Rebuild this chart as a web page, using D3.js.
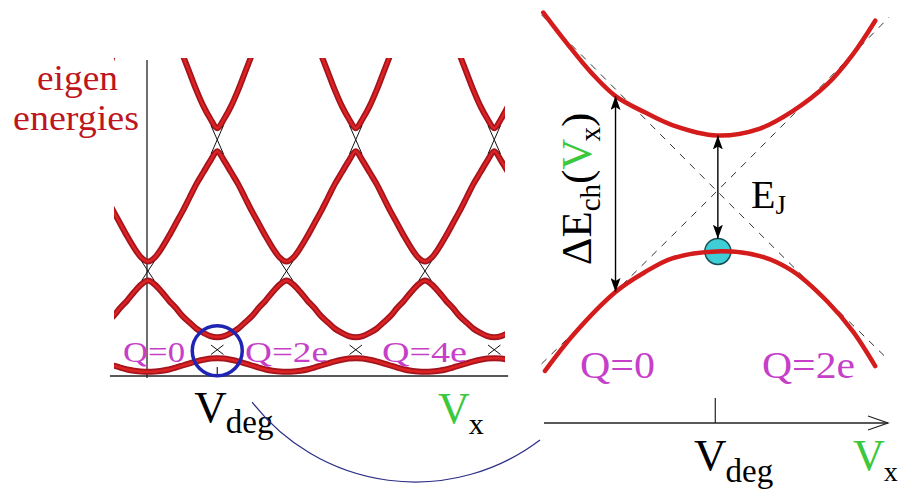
<!DOCTYPE html>
<html>
<head>
<meta charset="utf-8">
<script src="https://cdn.jsdelivr.net/npm/d3@7/dist/d3.min.js"></script>
<style>
  html, body { margin: 0; padding: 0; background: #fff; }
  svg { display: block; }
</style>
</head>
<body>
<div id="chart"></div>
<script>
// left panel: gate voltage samples (in units of one 2e period) and the four lowest bands
const vGrid = [-0.3, -0.25, -0.2, -0.15, -0.1, -0.05,
  0, 0.05, 0.1, 0.15, 0.2, 0.25, 0.3, 0.35, 0.4, 0.45, 0.5, 0.55, 0.6, 0.65, 0.7, 0.75, 0.8, 0.85, 0.9, 0.95,
  1, 1.05, 1.1, 1.15, 1.2, 1.25, 1.3, 1.35, 1.4, 1.45, 1.5, 1.55, 1.6, 1.65, 1.7, 1.75, 1.8, 1.85, 1.9, 1.95,
  2, 2.05, 2.1, 2.15, 2.2, 2.25, 2.3, 2.35, 2.4, 2.45, 2.5, 2.55, 2.6];
const band1 = [0.12, 0.10, 0.08, 0.062, 0.05, 0.042,
  0.04, 0.042, 0.05, 0.062, 0.08, 0.10, 0.12, 0.14, 0.155, 0.166, 0.17, 0.166, 0.155, 0.14, 0.12, 0.10, 0.08, 0.062, 0.05, 0.042,
  0.04, 0.042, 0.05, 0.062, 0.08, 0.10, 0.12, 0.14, 0.155, 0.166, 0.17, 0.166, 0.155, 0.14, 0.12, 0.10, 0.08, 0.062, 0.05, 0.042,
  0.04, 0.042, 0.05, 0.062, 0.08, 0.10, 0.12, 0.14, 0.155, 0.166, 0.17, 0.166, 0.155];
const band2 = [0.51, 0.57, 0.65, 0.72, 0.80, 0.87,
  0.91, 0.87, 0.80, 0.72, 0.65, 0.57, 0.51, 0.45, 0.41, 0.38, 0.37, 0.38, 0.41, 0.45, 0.51, 0.57, 0.65, 0.72, 0.80, 0.87,
  0.91, 0.87, 0.80, 0.72, 0.65, 0.57, 0.51, 0.45, 0.41, 0.38, 0.37, 0.38, 0.41, 0.45, 0.51, 0.57, 0.65, 0.72, 0.80, 0.87,
  0.91, 0.87, 0.80, 0.72, 0.65, 0.57, 0.51, 0.45, 0.41, 0.38, 0.37, 0.38, 0.41];
const band3 = [1.70, 1.57, 1.45, 1.33, 1.22, 1.13,
  1.09, 1.13, 1.22, 1.33, 1.45, 1.57, 1.70, 1.83, 1.94, 2.05, 2.14, 2.05, 1.94, 1.83, 1.70, 1.57, 1.45, 1.33, 1.22, 1.13,
  1.09, 1.13, 1.22, 1.33, 1.45, 1.57, 1.70, 1.83, 1.94, 2.05, 2.14, 2.05, 1.94, 1.83, 1.70, 1.57, 1.45, 1.33, 1.22, 1.13,
  1.09, 1.13, 1.22, 1.33, 1.45, 1.57, 1.70, 1.83, 1.94, 2.05, 2.14, 2.05, 1.94];
const band4 = [2.89, 3.06, 3.24, 3.42, 3.61, 3.80,
  4.0, 3.80, 3.61, 3.42, 3.24, 3.06, 2.89, 2.72, 2.57, 2.45, 2.36, 2.45, 2.57, 2.72, 2.89, 3.06, 3.24, 3.42, 3.61, 3.80,
  4.0, 3.80, 3.61, 3.42, 3.24, 3.06, 2.89, 2.72, 2.57, 2.45, 2.36, 2.45, 2.57, 2.72, 2.89, 3.06, 3.24, 3.42, 3.61, 3.80,
  4.0, 3.80, 3.61, 3.42, 3.24, 3.06, 2.89, 2.72, 2.57, 2.45, 2.36, 2.45, 2.57];
// crossings of the bare charge parabolas (thin black X marks)
const crossV = [0.5, 1.5, 2.5, 0, 1, 2, 0.5, 1.5, 2.5];
const crossE = [0.25, 0.25, 0.25, 1, 1, 1, 2.25, 2.25, 2.25];
const crossSlope = [1, 1, 1, 2, 2, 2, 3, 3, 3];
const chargeLabels = ['Q=0', 'Q=2e', 'Q=4e'];

// right panel: zoom on the degeneracy point (u = 0 at V_deg)
const uUpper = [-1.01, -0.87, -0.73, -0.59, -0.42, -0.26, 0, 0.25, 0.44, 0.64, 0.79, 0.92];
const eUpper = [1.54, 1.27, 1.02, 0.82, 0.68, 0.57, 0.48, 0.54, 0.69, 0.92, 1.18, 1.47];
const uLower = [-1.0, -0.83, -0.59, -0.42, -0.26, 0, 0.25, 0.44, 0.64, 0.79, 0.92];
const eLower = [-1.55, -1.23, -0.87, -0.70, -0.58, -0.52, -0.56, -0.69, -0.95, -1.21, -1.51];
const uBare = [-1.02, -0.5, 0, 0.5, 1.0];
const eBareA = [1.52, 0.745, 0, -0.735, -1.46];
const eBareB = [-1.49, -0.735, 0, 0.745, 1.50];
const arrowU = [-0.59, 0.005];
const arrowTop = [0.82, 0.48];
const arrowBottom = [-0.87, -0.41];

const W = 899, H = 492;
const RED = '#d41c1c', MAGENTA = '#c63fc8', GREEN = '#3cc83c';

// use whichever Times-like face the machine really has
function pickSerif() {
  const ctx = document.createElement('canvas').getContext('2d');
  const sample = 'eigen energies Q=2e Vdeg';
  ctx.font = '40px monospace';
  const base = ctx.measureText(sample).width;
  const cands = ['Liberation Serif', 'Tinos', 'Times New Roman', 'Nimbus Roman', 'Nimbus Roman No9 L',
    'FreeSerif', 'DejaVu Serif', 'Noto Serif', 'Times'];
  for (const f of cands) {
    ctx.font = `40px "${f}", monospace`;
    if (Math.abs(ctx.measureText(sample).width - base) > 0.5) return `"${f}", serif`;
  }
  return 'serif';
}
const SERIF = pickSerif();

const svg = d3.select('#chart').append('svg').attr('width', W).attr('height', H)
  .style('font-family', SERIF);
const defs = svg.append('defs');
defs.append('clipPath').attr('id', 'leftClip')
  .append('rect').attr('x', 114).attr('y', 58).attr('width', 391).attr('height', 322);
defs.append('marker').attr('id', 'head')
  .attr('viewBox', '0 0 14 10').attr('refX', 14).attr('refY', 5)
  .attr('markerWidth', 14).attr('markerHeight', 10).attr('markerUnits', 'userSpaceOnUse')
  .attr('orient', 'auto-start-reverse')
  .append('path').attr('d', 'M0,0 L14,5 L0,10 L3,5 Z').attr('fill', '#000');

// ---------- left panel ----------
const xL = d3.scaleLinear().domain([0, 2.5]).range([148, 494.25]);
const yL = d3.scaleLinear().domain([0, 3]).range([376, 61]);

svg.append('line').attr('x1', xL(0) - 1).attr('x2', xL(0) - 1).attr('y1', 60).attr('y2', 378)
  .attr('stroke', '#222').attr('stroke-width', 1.3);
svg.append('line').attr('x1', xL(-0.275)).attr('x2', xL(2.6)).attr('y1', yL(0)).attr('y2', yL(0))
  .attr('stroke', '#222').attr('stroke-width', 1.5);

const bandLine = d3.line().x((d, i) => xL(vGrid[i])).y(d => yL(d)).curve(d3.curveMonotoneX);
const gBands = svg.append('g').attr('clip-path', 'url(#leftClip)');
[band1, band2, band3, band4].forEach(b => {
  gBands.append('path').attr('d', bandLine(b)).attr('fill', 'none')
    .attr('stroke', '#a3141d').attr('stroke-width', 6).attr('stroke-linecap', 'round');
  gBands.append('path').attr('d', bandLine(b)).attr('fill', 'none')
    .attr('stroke', '#dc2222').attr('stroke-width', 2.6).attr('stroke-linecap', 'round');
});

const h = 0.045;
crossV.forEach((v, i) => {
  const e = crossE[i], s = crossSlope[i];
  [[-1, 1], [1, -1]].forEach(([a, b]) => {
    svg.append('line')
      .attr('x1', xL(v - h)).attr('y1', yL(e + a * s * h))
      .attr('x2', xL(v + h)).attr('y2', yL(e + b * s * h))
      .attr('stroke', '#111').attr('stroke-width', 1);
  });
});

// degeneracy circle and tick
svg.append('line').attr('x1', xL(0.5)).attr('x2', xL(0.5)).attr('y1', yL(0) - 9).attr('y2', yL(0))
  .attr('stroke', '#222').attr('stroke-width', 1.2);
svg.append('circle').attr('cx', xL(0.5)).attr('cy', yL(0.24)).attr('r', 25)
  .attr('fill', 'none').attr('stroke', '#1f25b2').attr('stroke-width', 3.5);

// labels
svg.append('text').text('eigen').attr('x', 37).attr('y', 90)
  .attr('font-size', 35).attr('fill', '#bd1620').attr('textLength', 81).attr('lengthAdjust', 'spacingAndGlyphs');
svg.append('text').text('energies').attr('x', 13).attr('y', 130)
  .attr('font-size', 35).attr('fill', '#bd1620').attr('textLength', 126).attr('lengthAdjust', 'spacingAndGlyphs');

const qLeftX = [123, 245, 382], qLeftW = [62, 83, 85];
chargeLabels.forEach((t, i) => {
  svg.append('text').text(t).attr('x', qLeftX[i]).attr('y', 362)
    .attr('font-size', 30).attr('fill', MAGENTA)
    .attr('textLength', qLeftW[i]).attr('lengthAdjust', 'spacingAndGlyphs');
});

const vdegL = svg.append('text').attr('x', xL(0.5) - 23).attr('y', 422).attr('fill', '#000');
vdegL.append('tspan').text('V').attr('font-size', 45);
vdegL.append('tspan').text('deg').attr('font-size', 33).attr('dx', -1).attr('dy', 11);

const vxL = svg.append('text').attr('x', 438).attr('y', 423);
vxL.append('tspan').text('V').attr('font-size', 44).attr('fill', GREEN);
vxL.append('tspan').text('x').attr('font-size', 30).attr('dx', -1).attr('dy', 11).attr('fill', '#000');

// connecting arc
const arcPath = d3.path();
arcPath.arc(415.2, 275.6, 206.4, 52.8 * Math.PI / 180, 142.2 * Math.PI / 180);
svg.append('path').attr('d', arcPath.toString()).attr('fill', 'none')
  .attr('stroke', '#2c2f86').attr('stroke-width', 1.2);

// ---------- right panel ----------
const xR = d3.scaleLinear().domain([-1, 1]).range([545, 889]);
const yR = d3.scaleLinear().domain([-2, 1.64]).range([423, 1]);
const pairLine = d3.line().x(d => xR(d[0])).y(d => yR(d[1])).curve(d3.curveCatmullRom.alpha(0.5));

[eBareA, eBareB].forEach(e => {
  svg.append('path').attr('d', pairLine(d3.zip(uBare, e))).attr('fill', 'none')
    .attr('stroke', '#333').attr('stroke-width', 1).attr('stroke-dasharray', '7,7');
});

svg.append('line').attr('x1', xR(-1.006)).attr('x2', 888).attr('y1', yR(-2)).attr('y2', yR(-2))
  .attr('stroke', '#222').attr('stroke-width', 1.4);
svg.append('path').attr('d', `M868,${yR(-2) - 7} L888,${yR(-2)} L868,${yR(-2) + 7}`)
  .attr('fill', 'none').attr('stroke', '#222').attr('stroke-width', 1.2);
svg.append('line').attr('x1', xR(-0.01)).attr('x2', xR(-0.01)).attr('y1', yR(-2) - 25).attr('y2', yR(-2))
  .attr('stroke', '#222').attr('stroke-width', 1.2);

// operating point
svg.append('circle').attr('cx', xR(0.005)).attr('cy', yR(-0.52)).attr('r', 13)
  .attr('fill', '#3fcdd6').attr('stroke', '#174f55').attr('stroke-width', 1.5);

[[uUpper, eUpper], [uLower, eLower]].forEach(([u, e]) => {
  svg.append('path').attr('d', pairLine(d3.zip(u, e))).attr('fill', 'none')
    .attr('stroke', RED).attr('stroke-width', 4.5).attr('stroke-linecap', 'round');
});

arrowU.forEach((u, i) => {
  svg.append('line').attr('x1', xR(u)).attr('x2', xR(u))
    .attr('y1', yR(arrowTop[i])).attr('y2', yR(arrowBottom[i]))
    .attr('stroke', '#000').attr('stroke-width', 1.4)
    .attr('marker-start', 'url(#head)').attr('marker-end', 'url(#head)');
});

// right labels
const qRightX = [580, 762], qRightW = [75, 93];
chargeLabels.slice(0, 2).forEach((t, i) => {
  svg.append('text').text(t).attr('x', qRightX[i]).attr('y', 378)
    .attr('font-size', 38).attr('fill', MAGENTA)
    .attr('textLength', qRightW[i]).attr('lengthAdjust', 'spacingAndGlyphs');
});

const ej = svg.append('text').attr('x', 751).attr('y', 208).attr('fill', '#000');
ej.append('tspan').text('E').attr('font-size', 40);
ej.append('tspan').text('J').attr('font-size', 27).attr('dy', 6);

const dE = svg.append('text').attr('transform', 'translate(591,189) rotate(-90)')
  .attr('text-anchor', 'middle').attr('fill', '#000');
dE.append('tspan').text('ΔE').attr('font-size', 43);
dE.append('tspan').text('ch').attr('font-size', 29).attr('dy', 9);
dE.append('tspan').text('(').attr('font-size', 43).attr('dy', -9);
dE.append('tspan').text('V').attr('font-size', 43).attr('fill', GREEN);
dE.append('tspan').text('x').attr('font-size', 29).attr('dx', -3).attr('dy', 9);
dE.append('tspan').text(')').attr('font-size', 43).attr('dy', -9);

const vdegR = svg.append('text').attr('x', 694).attr('y', 470).attr('fill', '#000');
vdegR.append('tspan').text('V').attr('font-size', 45);
vdegR.append('tspan').text('deg').attr('font-size', 33).attr('dx', -1).attr('dy', 12);

const vxR = svg.append('text').attr('x', 853).attr('y', 470);
vxR.append('tspan').text('V').attr('font-size', 44).attr('fill', GREEN);
vxR.append('tspan').text('x').attr('font-size', 28).attr('dx', -1).attr('dy', 11).attr('fill', '#000');
</script>
</body>
</html>
